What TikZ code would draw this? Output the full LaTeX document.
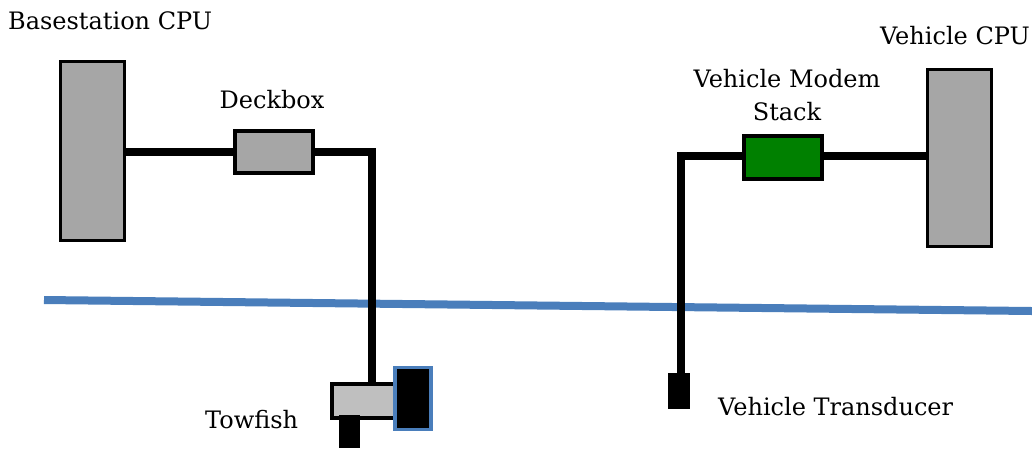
\documentclass[tikz,border=0pt]{standalone}
\usepackage{fontspec}
\setmainfont{DejaVu Serif}
\begin{document}
\begin{tikzpicture}[x=1pt,y=-1pt,
  cpu/.style={draw=black,line width=3.5pt,fill=cpugray,inner sep=0pt},
  box/.style={draw=black,line width=4pt,inner sep=0pt},
  cable/.style={line width=8pt,draw=black},
  lbl/.style={font=\fontsize{24}{33}\selectfont,inner sep=0pt}]
\definecolor{cpugray}{HTML}{A6A6A6}
\definecolor{towgray}{HTML}{BFBFBF}
\definecolor{seablue}{HTML}{4A7EBB}
\definecolor{modemgreen}{HTML}{008000}
\useasboundingbox (0,0) rectangle (1032,448);
% water line
\draw[line width=8pt,seablue] (44,300) -- (1032,311);
% boxes
\node[cpu,minimum width=64pt,minimum height=179pt] (bcpu) at (92.5,151) {};
\node[cpu,minimum width=64pt,minimum height=177pt] (vcpu) at (959.5,158) {};
\node[box,fill=cpugray,minimum width=78pt,minimum height=42pt] (deck) at (273.5,151.5) {};
\node[box,fill=modemgreen,minimum width=78pt,minimum height=43pt] (modem) at (782.5,157) {};
% towfish
\node[box,fill=towgray,minimum width=63pt,minimum height=34pt,anchor=north west] (tow) at (330,382) {};
\fill (339,415) rectangle (360,448);
\node[draw=seablue,line width=3.5pt,fill=black,minimum width=36pt,minimum height=62pt,inner sep=0pt] (towhead) at (413,398.5) {};
% transducer
\node[fill=black,minimum width=22pt,minimum height=36pt,inner sep=0pt] (trans) at (679,391) {};
% cables
\coordinate (dturn) at (372,152);
\coordinate (mturn) at (681,156);
\draw[cable] (bcpu.east |- dturn) -- (deck.west |- dturn);
\draw[cable,line join=miter] (deck.east |- dturn) -- (dturn) -- (tow.north -| dturn);
\draw[cable] (modem.east |- mturn) -- (vcpu.west |- mturn);
\draw[cable,line join=miter] (modem.west |- mturn) -- (mturn) -- (trans.north -| mturn);
% labels
\node[lbl,anchor=base west] (lb1) at (8,29) {Basestation CPU};
\node[lbl,anchor=base] (lb2) at (272,108) {Deckbox};
\node[lbl,align=center,anchor=base] (lb3) at (787,120) {Vehicle Modem\\Stack};
\node[lbl,anchor=base east] (lb4) at (1030,44) {Vehicle CPU};
\node[lbl,anchor=base west] (lb5) at (205,428) {Towfish};
\node[lbl,anchor=base west] (lb6) at (718,415) {Vehicle Transducer};
\end{tikzpicture}
\end{document}
